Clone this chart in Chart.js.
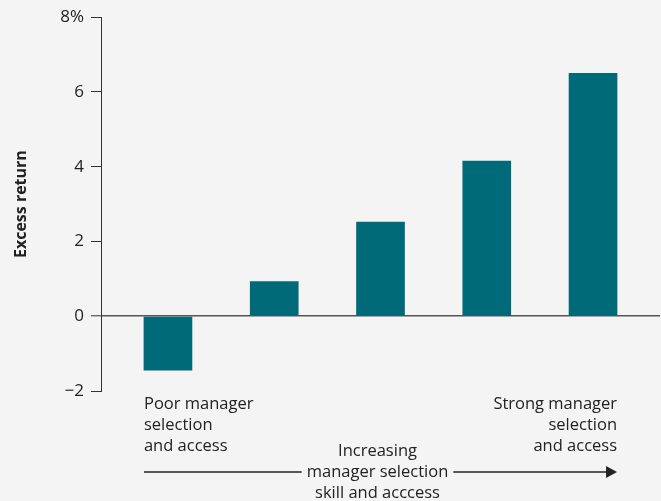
<!DOCTYPE html>
<html>
<head>
<meta charset="utf-8">
<script src="https://cdn.jsdelivr.net/npm/chart.js@4"></script>
<style>
html,body{margin:0;padding:0;background:#f4f4f4;}
#wrap{width:661px;height:501px;position:relative;}
</style>
</head>
<body>
<div id="wrap"><canvas id="c" width="661" height="501"></canvas></div>
<script>
const categories = ['Poor', 'Below average', 'Average', 'Above average', 'Strong'];
const excessReturn = [-1.44, 0.93, 2.52, 4.15, 6.5];
const yTicks = [-2, 0, 2, 4, 6, 8];
const leftNote = ['Poor manager', 'selection', 'and access'];
const rightNote = ['Strong manager', 'selection', 'and access'];
const arrowNote = ['Increasing', 'manager selection', 'skill and acccess'];

const FONT = '"Open Sans", "DejaVu Sans", sans-serif';
const TEXT = '#222222';

const notes = {
  id: 'notes',
  afterDraw(chart) {
    const ctx = chart.ctx;
    const x = chart.scales.x, y = chart.scales.y;
    const half = 24;
    const x0 = x.getPixelForValue(0) - half;
    const x1 = x.getPixelForValue(categories.length - 1) + half;
    const base = y.bottom;
    ctx.save();
    ctx.fillStyle = TEXT;
    ctx.font = '16.5px ' + FONT;
    ctx.textBaseline = 'middle';
    const lh = 21;
    ctx.textAlign = 'left';
    leftNote.forEach((t, i) => ctx.fillText(t, x0, base + 13 + i * lh));
    ctx.textAlign = 'right';
    rightNote.forEach((t, i) => ctx.fillText(t, x1, base + 13 + i * lh));
    const mid = (x0 + x1) / 2 - 3;
    const ay = base + 81;
    ctx.textAlign = 'center';
    arrowNote.forEach((t, i) => ctx.fillText(t, mid, ay + (i - 1) * lh));
    const w = ctx.measureText(arrowNote[1]).width;
    ctx.strokeStyle = '#222';
    ctx.lineWidth = 1.3;
    ctx.beginPath();
    ctx.moveTo(x0, ay); ctx.lineTo(mid - w / 2 - 5, ay);
    ctx.moveTo(mid + w / 2 + 5, ay); ctx.lineTo(x1 - 10, ay);
    ctx.stroke();
    ctx.beginPath();
    ctx.moveTo(x1, ay); ctx.lineTo(x1 - 11, ay - 6); ctx.lineTo(x1 - 11, ay + 6); ctx.closePath();
    ctx.fillStyle = '#222';
    ctx.fill();
    ctx.restore();
  }
};

new Chart(document.getElementById('c'), {
  type: 'bar',
  data: {
    datasets: [{
      label: 'Excess return',
      data: excessReturn.map((v, i) => ({ x: i, y: v })),
      backgroundColor: '#006a78',
      barThickness: 48,
      borderWidth: 0
    }]
  },
  options: {
    responsive: false,
    animation: false,
    devicePixelRatio: 1,
    layout: { padding: { top: 14, right: 1, bottom: 110, left: 0 } },
    plugins: { legend: { display: false }, tooltip: { enabled: false } },
    scales: {
      x: {
        type: 'linear',
        offset: false,
        min: -0.63,
        max: categories.length - 1 + 0.63,
        grid: { offset: false },
        display: false
      },
      y: {
        min: yTicks[0],
        max: yTicks[yTicks.length - 1],
        afterBuildTicks: s => { s.ticks = yTicks.map(v => ({ value: v })); },
        afterFit: s => { s.width = 101; },
        ticks: {
          color: TEXT,
          padding: 7,
          font: { family: FONT, size: 17 },
          callback: v => (v === yTicks[yTicks.length - 1] ? v + '%' : (v < 0 ? '\u2212' + Math.abs(v) : String(v)))
        },
        grid: {
          drawTicks: true,
          tickLength: 10,
          color: c => (c.tick && c.tick.value === 0 ? '#555555' : 'rgba(0,0,0,0)'),
          lineWidth: c => (c.tick && c.tick.value === 0 ? 1.6 : 1),
          tickColor: '#333333',
          tickWidth: 1
        },
        border: { display: true, color: '#333333', width: 1 },
        title: {
          display: true,
          text: 'Excess return',
          color: TEXT,
          font: { family: FONT, size: 16, weight: 'bold' },
          padding: { top: 12, bottom: 0 }
        }
      }
    }
  },
  plugins: [notes]
});
</script>
</body>
</html>
